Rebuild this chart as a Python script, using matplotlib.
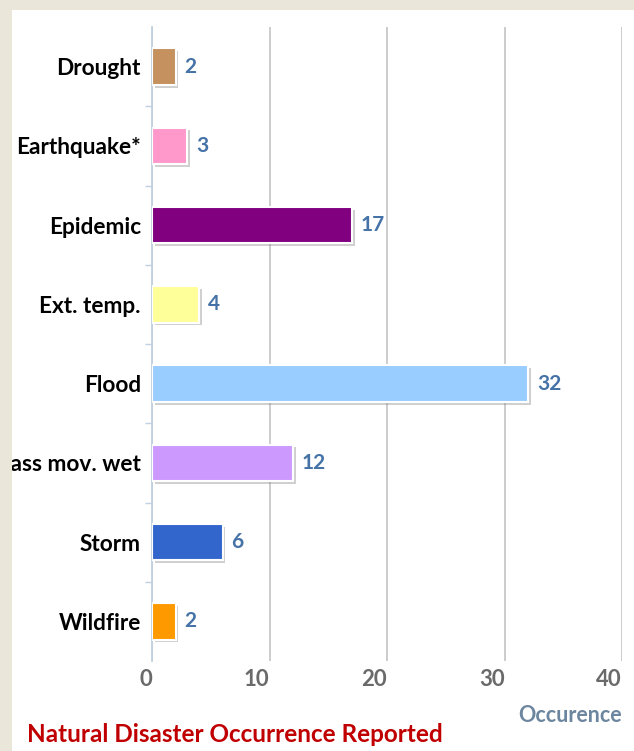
import matplotlib.pyplot as plt
import matplotlib.patheffects as pe
from matplotlib.patches import Rectangle
import numpy as np

categories = ['Drought', 'Earthquake*', 'Epidemic', 'Ext. temp.', 'Flood',
              'Mass mov. wet', 'Storm', 'Wildfire']
occurrences = [2, 3, 17, 4, 32, 12, 6, 2]
bar_colors = ['#C4915F', '#FF99CC', '#800080', '#FFFF99', '#99CCFF',
              '#CC99FF', '#3366CC', '#FF9900']
x_ticks = [0, 10, 20, 30, 40]

plt.rcParams['font.family'] = ['Lato', 'DejaVu Sans']

fig = plt.figure(figsize=(6.34, 7.51), dpi=100)
fig.patch.set_facecolor('white')

ax = fig.add_axes([152 / 634, 1 - 661 / 751, 470 / 634, 634 / 751])
ypos = np.arange(len(categories))

shadow = [pe.SimplePatchShadow(offset=(2, -2), shadow_rgbFace='#888888', alpha=0.4),
          pe.Normal()]
bars = ax.barh(ypos, occurrences, height=0.46, color=bar_colors,
               edgecolor='white', linewidth=1.5, zorder=3)
for b in bars:
    b.set_path_effects(shadow)

for y, v in zip(ypos, occurrences):
    ax.annotate(str(v), (v, y), xytext=(6.5, 0), textcoords='offset points',
                va='center', ha='left', color='#4572A7', fontsize=15,
                fontweight='bold', zorder=4)

ax.set_xlim(0, 40)
ax.set_ylim(len(categories) - 0.5, -0.5)
ax.set_xticks(x_ticks)
ax.set_xticklabels([str(t) for t in x_ticks])
plt.setp(ax.get_xticklabels(), ha='right', fontweight='bold')
ax.tick_params(axis='x', length=0, pad=6, labelsize=16, labelcolor='#6A6A6A')
ax.set_yticks(ypos)
ax.set_yticklabels(categories)
ax.set_yticks(np.arange(0.5, len(categories) - 0.5, 1), minor=True)
ax.tick_params(axis='y', which='major', length=0, pad=8, labelsize=16.3)
ax.tick_params(axis='y', which='minor', length=5, width=1, color='#C0D0E0')
for lab in ax.get_yticklabels():
    lab.set_fontweight('bold')

ax.grid(axis='x', color='#C8C8C8', linewidth=1.3, zorder=0)
ax.set_axisbelow(True)
for s in ['top', 'right', 'bottom']:
    ax.spines[s].set_visible(False)
ax.spines['left'].set_color('#C0D0E0')
ax.spines['left'].set_linewidth(1.3)

fig.text(622 / 634, 1 - 716 / 751, 'Occurence', ha='right', va='center',
         color='#6D869F', fontsize=15.5, fontweight='bold')
fig.text(27 / 634, 1 - 735 / 751, 'Natural Disaster Occurrence Reported',
         ha='left', va='center', color='#C00000', fontsize=17.5, fontweight='bold')

# beige frame around the white panel, drawn on top so the long label is clipped
bg = '#EAE6D9'
fig.add_artist(Rectangle((0, 0), 12 / 634, 1, transform=fig.transFigure,
                         facecolor=bg, edgecolor='none', zorder=10))
fig.add_artist(Rectangle((0, 1 - 10 / 751), 1, 10 / 751, transform=fig.transFigure,
                         facecolor=bg, edgecolor='none', zorder=10))

fig.savefig('out.png', dpi=100)
